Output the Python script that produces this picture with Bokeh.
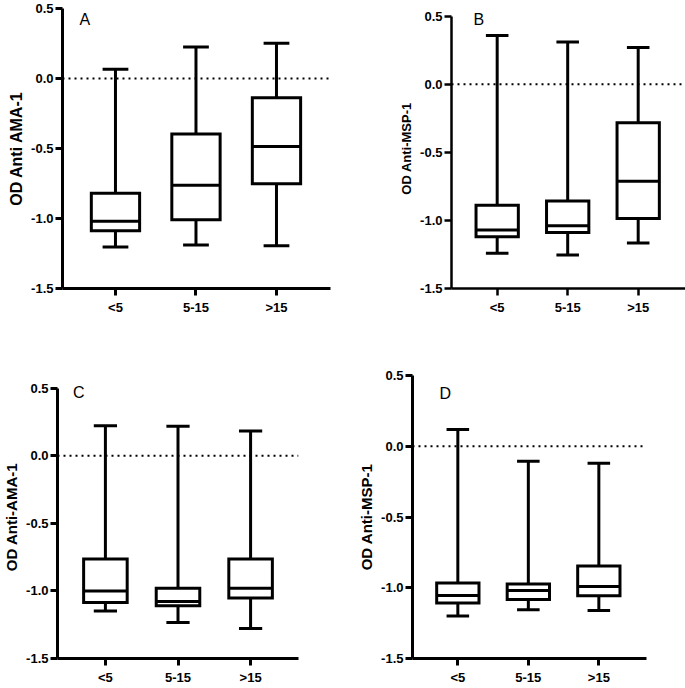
from bokeh.plotting import figure
from bokeh.models import Range1d, FixedTicker, Span, Label, NumeralTickFormatter
from bokeh.layouts import row, column
from bokeh.embed import file_html
from bokeh.resources import INLINE

categories = ["<5", "5-15", ">15"]
y_ticks = [-1.5, -1.0, -0.5, 0.0, 0.5]

# Panel A: OD Anti AMA-1
a_max = [0.066, 0.225, 0.251]
a_q3 = [-0.820, -0.396, -0.137]
a_med = [-1.020, -0.763, -0.486]
a_q1 = [-1.088, -1.009, -0.751]
a_min = [-1.204, -1.190, -1.194]

# Panel B: OD Anti-MSP-1
b_max = [0.359, 0.310, 0.271]
b_q3 = [-0.889, -0.857, -0.282]
b_med = [-1.071, -1.040, -0.713]
b_q1 = [-1.120, -1.088, -0.986]
b_min = [-1.242, -1.254, -1.166]

# Panel C: OD Anti-AMA-1
c_max = [0.222, 0.217, 0.183]
c_q3 = [-0.765, -0.980, -0.765]
c_med = [-1.000, -1.078, -0.980]
c_q1 = [-1.085, -1.109, -1.053]
c_min = [-1.148, -1.234, -1.278]

# Panel D: OD Anti-MSP-1
d_max = [0.118, -0.106, -0.120]
d_q3 = [-0.966, -0.973, -0.847]
d_med = [-1.055, -1.020, -0.992]
d_q1 = [-1.108, -1.083, -1.057]
d_min = [-1.199, -1.155, -1.160]

FONT = "Liberation Sans"
LW = 3
BOX_W = 0.6
CAP_W = 0.32


def panel(letter, ylabel, ylabel_size, stats, width, height, borders, xr, yr,
          letter_pos, axis_lw=3):
    mx, q3, med, q1, mn = stats
    bl, br, bt, bb = borders
    p = figure(width=width, height=height,
               x_range=Range1d(*xr), y_range=Range1d(*yr),
               output_backend="svg", toolbar_location=None,
               min_border_left=bl, min_border_right=br,
               min_border_top=bt, min_border_bottom=bb)
    p.xgrid.visible = False
    p.ygrid.visible = False
    p.outline_line_color = None
    p.background_fill_color = "white"
    p.border_fill_color = "white"

    xs = [i + 1 for i in range(len(categories))]

    p.add_layout(Span(location=0, dimension="width", line_color="black",
                      line_width=2, line_dash="2 4"))

    # whiskers
    p.segment(x0=xs, y0=q3, x1=xs, y1=mx, line_color="black", line_width=LW)
    p.segment(x0=xs, y0=q1, x1=xs, y1=mn, line_color="black", line_width=LW)
    # caps
    p.segment(x0=[x - CAP_W / 2 for x in xs], y0=mx, x1=[x + CAP_W / 2 for x in xs], y1=mx,
              line_color="black", line_width=LW)
    p.segment(x0=[x - CAP_W / 2 for x in xs], y0=mn, x1=[x + CAP_W / 2 for x in xs], y1=mn,
              line_color="black", line_width=LW)
    # boxes
    p.vbar(x=xs, top=q3, bottom=q1, width=BOX_W, fill_color="white",
           line_color="black", line_width=LW, line_join="miter")
    # medians
    p.segment(x0=[x - BOX_W / 2 for x in xs], y0=med, x1=[x + BOX_W / 2 for x in xs], y1=med,
              line_color="black", line_width=LW)

    p.yaxis.ticker = FixedTicker(ticks=y_ticks)
    p.yaxis.formatter = NumeralTickFormatter(format="0.0")
    p.yaxis.bounds = (y_ticks[0], y_ticks[-1])
    p.xaxis.ticker = FixedTicker(ticks=xs)
    p.xaxis.major_label_overrides = {x: c for x, c in zip(xs, categories)}

    for ax in (p.xaxis[0], p.yaxis[0]):
        ax.axis_line_width = axis_lw
        ax.axis_line_color = "black"
        ax.major_tick_line_width = axis_lw
        ax.major_tick_line_color = "black"
        ax.major_tick_in = 0
        ax.major_tick_out = 7
        ax.minor_tick_line_color = None
        ax.major_label_text_font = FONT
        ax.major_label_text_font_style = "bold"
        ax.major_label_text_font_size = "13px"
        ax.major_label_text_color = "black"
        ax.major_label_standoff = 2
    p.xaxis.major_label_standoff = 4
    p.yaxis.axis_label = ylabel
    p.yaxis.axis_label_text_font = FONT
    p.yaxis.axis_label_text_font_style = "bold"
    p.yaxis.axis_label_text_font_size = ylabel_size
    p.yaxis.axis_label_text_color = "black"
    p.yaxis.axis_label_standoff = 3

    p.add_layout(Label(x=letter_pos[0], y=letter_pos[1], text=letter,
                       text_font=FONT, text_font_size="16px", text_color="black",
                       text_baseline="alphabetic"))
    return p


pA = panel("A", "OD Anti AMA-1", "16px", (a_max, a_q3, a_med, a_q1, a_min),
           390, 340, (62, 60, 8, 52), (0.342, 3.671), (-1.5, 0.5), (0.553, 0.425))
pB = panel("B", "OD Anti-MSP-1", "13px", (b_max, b_q3, b_med, b_q1, b_min),
           295, 340, (61, 0, 8, 52), (0.352, 3.671), (-1.5, 0.5566), (0.664, 0.476),
           axis_lw=2.5)
pC = panel("C", "OD Anti-AMA-1", "15px", (c_max, c_q3, c_med, c_q1, c_min),
           353, 347, (53, 55, 35, 26), (0.340, 3.660), (-1.5, 0.593), (0.555, 0.470))
pD = panel("D", "OD Anti-MSP-1", "15px", (d_max, d_q3, d_med, d_q1, d_min),
           332, 347, (59, 39, 35, 26), (0.357, 3.676), (-1.5, 0.5), (0.740, 0.375))

layout = column(row(pA, pB), row(pC, pD))
open("out.html", "w").write(file_html(layout, INLINE))
